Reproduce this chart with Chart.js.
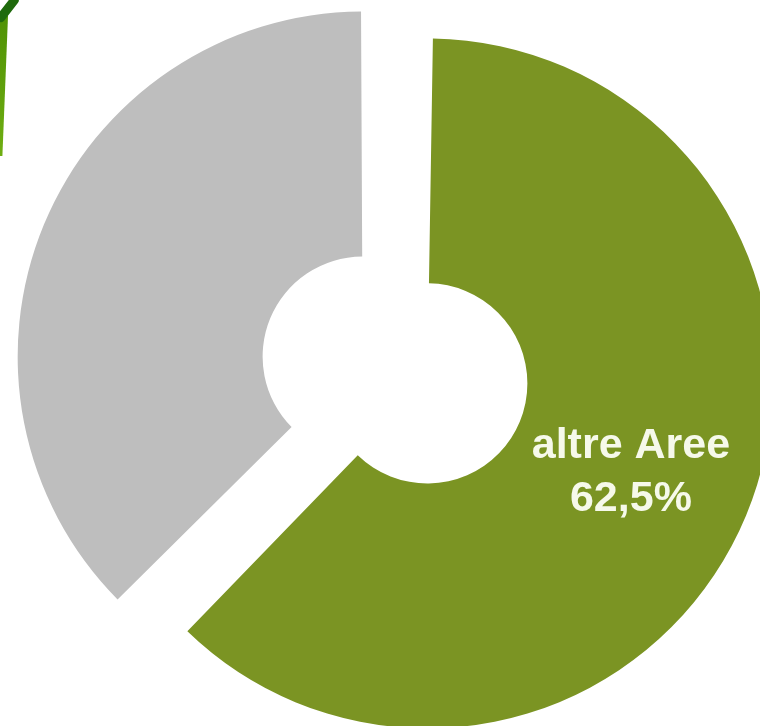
<!DOCTYPE html>
<html lang="it">
<head>
<meta charset="utf-8">
<title>altre Aree</title>
<script src="https://cdn.jsdelivr.net/npm/chart.js@4.4.1/dist/chart.umd.min.js"></script>
<style>
    html, body {
        margin: 0;
        padding: 0;
        width: 760px;
        height: 726px;
        overflow: hidden;
        background: #ffffff;
        position: relative;
    }
    /* chart is larger than the window: the original picture is cropped */
    #chart-wrap {
        position: absolute;
        left: -20px;
        top: -45px;
        width: 830px;
        height: 830px;
    }
    /* bits of the green ornament peeking in at the top-left corner */
    .deco-stem {
        position: absolute;
        left: 0;
        top: 16px;
        width: 8px;
        height: 140px;
        background: linear-gradient(#4f9204, #6fae12);
        clip-path: polygon(0 0, 100% 0, 30% 100%, 0 100%);
    }
    .deco-curl {
        position: absolute;
        left: 3px;
        top: -6px;
        width: 9px;
        height: 30px;
        background: #1f6a0c;
        border-radius: 4px;
        transform: rotate(38deg);
    }
</style>
</head>
<body>
<div class="deco-stem"></div>
<div class="deco-curl"></div>
<div id="chart-wrap"><canvas id="share-chart"></canvas></div>

<script>
// Chart data
const categories = ['altre Aree', ''];
const shares = [62.5, 37.5];
const labelledSlices = [true, false];

(function () {
    'use strict';

    const sliceColors = ['#7b9423', '#bebebe'];

    /**
     * Format a share the Italian way (62,5%)
     * @param {Number} v
     */
    function formatShare(v) {
        return v.toFixed(1).replace('.', ',') + '%';
    }

    /**
     * Chart.js grows an offset arc's radius; undo that so both slices share one radius
     */
    const sameRadius = {
        id: 'sameRadius',
        afterDatasetUpdate(chart, args) {
            args.meta.data.forEach(arc => {
                const t = (arc.options.offset || 0) / 4;
                const fix = 1 - Math.sin(Math.min(Math.PI, arc.circumference));
                arc.outerRadius -= t * fix;
                arc.innerRadius -= t * fix;
            });
        }
    };

    /**
     * Write category and share inside the slices
     */
    const sliceLabels = {
        id: 'sliceLabels',
        afterDatasetsDraw(chart) {
            const ctx = chart.ctx;
            const meta = chart.getDatasetMeta(0);
            meta.data.forEach((arc, i) => {
                if (!labelledSlices[i]) return;
                const t = (arc.options.offset || 0) / 4;
                const fix = 1 - Math.sin(Math.min(Math.PI, arc.circumference));
                const a = (arc.startAngle + arc.endAngle) / 2;
                const r = (arc.innerRadius + arc.outerRadius) / 2 + t * fix + t;
                const x = arc.x + Math.cos(a) * r;
                const y = arc.y + Math.sin(a) * r;

                ctx.save();
                ctx.fillStyle = '#f6f9ea';
                ctx.font = 'bold 43px "Liberation Sans", Arial, sans-serif';
                ctx.textAlign = 'center';
                ctx.textBaseline = 'alphabetic';
                ctx.fillText(categories[i], x - 2, y - 11);
                ctx.fillText(formatShare(shares[i]), x - 2, y + 42);
                ctx.restore();
            });
        }
    };

    function init() {
        const ctx = document.getElementById('share-chart').getContext('2d');

        new Chart(ctx, {
            type: 'doughnut',
            data: {
                labels: categories,
                datasets: [{
                    data: shares,
                    backgroundColor: sliceColors,
                    borderWidth: 0,
                    offset: 140,
                    hoverOffset: 140
                }]
            },
            options: {
                responsive: true,
                maintainAspectRatio: false,
                animation: false,
                events: [],
                cutout: '29%',
                layout: { padding: 0 },
                plugins: {
                    legend: { display: false },
                    tooltip: { enabled: false }
                }
            },
            plugins: [sameRadius, sliceLabels]
        });
    }

    init();
})();
</script>
</body>
</html>
